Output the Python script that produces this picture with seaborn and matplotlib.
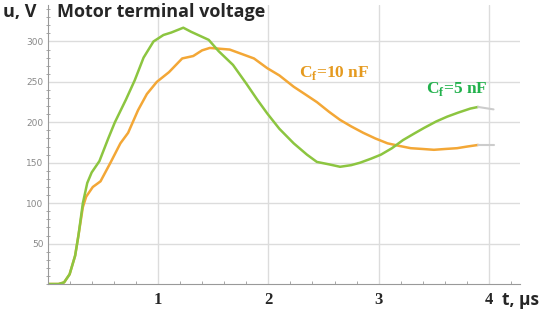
import seaborn as sns
import pandas as pd
import matplotlib.pyplot as plt
from matplotlib.ticker import MultipleLocator

# values (t in microseconds, u in volts)
t_5nf = [0, 0.1, 0.15, 0.2, 0.25, 0.28, 0.32, 0.36, 0.4, 0.47, 0.55, 0.61, 0.71, 0.79,
         0.87, 0.96, 1.05, 1.12, 1.23, 1.3, 1.38, 1.46, 1.55, 1.68, 1.8, 1.9, 1.99, 2.1,
         2.23, 2.35, 2.44, 2.55, 2.65, 2.75, 2.83, 2.93, 3.02, 3.12, 3.22, 3.32, 3.41,
         3.52, 3.62, 3.72, 3.83, 3.9]
u_5nf = [0, 0, 2, 12, 35, 60, 100, 125, 138, 152, 180, 200, 228, 252,
         280, 300, 308, 311, 317, 312, 307, 302, 288, 271, 248, 228, 211, 192,
         174, 160, 151, 148, 145, 147, 150, 155, 160, 168, 178, 186, 193,
         201, 207, 212, 217, 219]

t_10nf = [0, 0.1, 0.15, 0.2, 0.25, 0.28, 0.32, 0.35, 0.41, 0.48, 0.57, 0.66, 0.73, 0.82,
          0.9, 0.99, 1.1, 1.22, 1.32, 1.4, 1.47, 1.56, 1.65, 1.75, 1.87, 1.99, 2.1, 2.23,
          2.33, 2.44, 2.55, 2.65, 2.75, 2.86, 2.97, 3.08, 3.18, 3.29, 3.4, 3.5, 3.6,
          3.71, 3.8, 3.9]
u_10nf = [0, 0, 2, 12, 35, 60, 95, 108, 120, 127, 150, 174, 187, 215,
          235, 250, 262, 279, 282, 289, 292, 291, 290, 285, 279, 267, 258, 244,
          235, 225, 213, 203, 195, 187, 180, 174, 171, 168, 167, 166, 167,
          168, 170, 172]

# faded continuation at the right end of each trace
t_tail = [3.9, 4.04]
u_tail_5nf = [219, 216]
u_tail_10nf = [172, 172]

x_ticks = [1, 2, 3, 4]
y_ticks = [50, 100, 150, 200, 250, 300]

green = '#8cc540'
orange = '#f3a736'

sns.set_theme(style='white')
fig = plt.figure(figsize=(5.5, 3.12), dpi=100)
ax = fig.add_axes([0.0864, 0.0897, 0.8591, 0.894])

df = pd.concat([
    pd.DataFrame({'t': t_5nf, 'u': u_5nf, 'C': '5 nF'}),
    pd.DataFrame({'t': t_10nf, 'u': u_10nf, 'C': '10 nF'}),
])
sns.lineplot(data=df, x='t', y='u', hue='C', palette={'5 nF': green, '10 nF': orange},
             hue_order=['10 nF', '5 nF'], linewidth=1.8, legend=False, ax=ax, sort=False)
ax.plot(t_tail, u_tail_5nf, color='#cccccc', lw=1.5)
ax.plot(t_tail, u_tail_10nf, color='#cccccc', lw=1.5)

ax.set_xlim(0, 4.28)
ax.set_ylim(0, 345)
ax.set_xticks(x_ticks)
ax.set_yticks(y_ticks)
ax.xaxis.set_minor_locator(MultipleLocator(0.2))
ax.yaxis.set_minor_locator(MultipleLocator(10))
ax.grid(True, which='major', color='#dcdcdc', lw=1)
ax.set_xlabel('')
ax.set_ylabel('')

for side in ['top', 'right']:
    ax.spines[side].set_visible(False)
for side in ['left', 'bottom']:
    ax.spines[side].set_color('#999999')
    ax.spines[side].set_linewidth(0.8)

ax.tick_params(axis='y', which='major', length=4, width=0.8, color='#999999', direction='inout',
               labelsize=6.5, labelcolor='#888888', pad=1)
ax.tick_params(axis='y', which='minor', length=2.5, width=0.6, color='#999999', direction='inout', left=True)
ax.tick_params(axis='x', which='major', length=4, width=0.8, color='#999999', direction='inout',
               labelsize=12, pad=4)
ax.tick_params(axis='x', which='minor', length=2.5, width=0.6, color='#999999', direction='in', bottom=True)
for lab in ax.get_xticklabels():
    lab.set_fontfamily('Liberation Serif')
    lab.set_fontweight('bold')

fig.text(0.006, 0.99, 'u, V', fontsize=13, fontweight='bold', family='Open Sans', va='top')
fig.text(0.104, 0.99, 'Motor terminal voltage', fontsize=13, fontweight='bold',
         family='Open Sans', va='top')
fig.text(0.913, 0.01, 't, μs', fontsize=12.5, fontweight='bold', family='Open Sans', va='bottom')

ax.text(2.28, 261, r'C$_\mathregular{f}$=10 nF', color='#e59a1f', fontsize=12.5, fontweight='bold',
        family='Liberation Serif', va='center')
ax.text(3.43, 241, r'C$_\mathregular{f}$=5 nF', color='#22b14c', fontsize=12.5, fontweight='bold',
        family='Liberation Serif', va='center')

plt.savefig('out.png', dpi=100)
